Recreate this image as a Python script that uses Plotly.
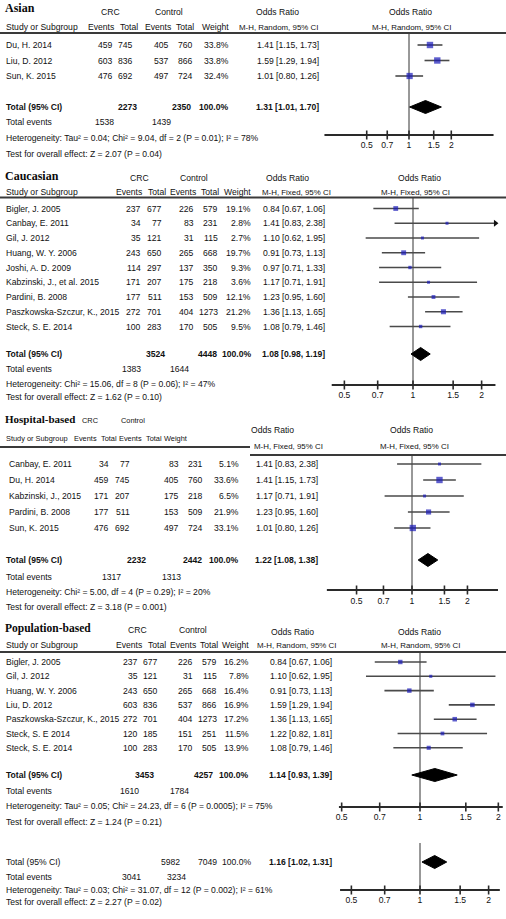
import math
import plotly.graph_objects as go

W, H = 506, 919
FONT = "Liberation Sans, Arial, sans-serif"
SERIF = "Liberation Serif, Times New Roman, serif"
FS = 8.6
FS_MH = 7.9
TXT = "#111111"
SQ = "#1a1ab8"

# ---------------- data ----------------
tick_vals = [0.5, 0.7, 1, 1.5, 2]
tick_labels = ["0.5", "0.7", "1", "1.5", "2"]

asian_studies = ["Du, H. 2014", "Liu, D. 2012", "Sun, K. 2015"]
asian_crc_events = [459, 603, 476]
asian_crc_total = [745, 836, 692]
asian_ctl_events = [405, 537, 497]
asian_ctl_total = [760, 866, 724]
asian_weight = [33.8, 33.8, 32.4]
asian_or = [1.41, 1.59, 1.01]
asian_lo = [1.15, 1.29, 0.80]
asian_hi = [1.73, 1.94, 1.26]
asian_totals = [2273, 2350, 1538, 1439]
asian_pooled = [1.31, 1.01, 1.70]
asian_het = "Heterogeneity: Tau² = 0.04; Chi² = 9.04, df = 2 (P = 0.01); I² = 78%"
asian_test = "Test for overall effect: Z = 2.07 (P = 0.04)"

cauc_studies = ["Bigler, J. 2005", "Canbay, E. 2011", "Gil, J. 2012", "Huang, W. Y. 2006",
                "Joshi, A. D. 2009", "Kabzinski, J., et al. 2015", "Pardini, B. 2008",
                "Paszkowska-Szczur, K., 2015", "Steck, S. E. 2014"]
cauc_crc_events = [237, 34, 35, 243, 114, 171, 177, 272, 100]
cauc_crc_total = [677, 77, 121, 650, 297, 207, 511, 701, 283]
cauc_ctl_events = [226, 83, 31, 265, 137, 175, 153, 404, 170]
cauc_ctl_total = [579, 231, 115, 668, 350, 218, 509, 1273, 505]
cauc_weight = [19.1, 2.8, 2.7, 19.7, 9.3, 3.6, 12.1, 21.2, 9.5]
cauc_or = [0.84, 1.41, 1.10, 0.91, 0.97, 1.17, 1.23, 1.36, 1.08]
cauc_lo = [0.67, 0.83, 0.62, 0.73, 0.71, 0.71, 0.95, 1.13, 0.79]
cauc_hi = [1.06, 2.38, 1.95, 1.13, 1.33, 1.91, 1.60, 1.65, 1.46]
cauc_totals = [3524, 4448, 1383, 1644]
cauc_pooled = [1.08, 0.98, 1.19]
cauc_het = "Heterogeneity: Chi² = 15.06, df = 8 (P = 0.06); I² = 47%"
cauc_test = "Test for overall effect: Z = 1.62 (P = 0.10)"

hosp_studies = ["Canbay, E. 2011", "Du, H. 2014", "Kabzinski, J., 2015", "Pardini, B. 2008", "Sun, K. 2015"]
hosp_crc_events = [34, 459, 171, 177, 476]
hosp_crc_total = [77, 745, 207, 511, 692]
hosp_ctl_events = [83, 405, 175, 153, 497]
hosp_ctl_total = [231, 760, 218, 509, 724]
hosp_weight = [5.1, 33.6, 6.5, 21.9, 33.1]
hosp_or = [1.41, 1.41, 1.17, 1.23, 1.01]
hosp_lo = [0.83, 1.15, 0.71, 0.95, 0.80]
hosp_hi = [2.38, 1.73, 1.91, 1.60, 1.26]
hosp_totals = [2232, 2442, 1317, 1313]
hosp_pooled = [1.22, 1.08, 1.38]
hosp_het = "Heterogeneity: Chi² = 5.00, df = 4 (P = 0.29); I² = 20%"
hosp_test = "Test for overall effect: Z = 3.18 (P = 0.001)"

pop_studies = ["Bigler, J. 2005", "Gil, J. 2012", "Huang, W. Y. 2006", "Liu, D. 2012",
               "Paszkowska-Szczur, K., 2015", "Steck, S. E 2014", "Steck, S. E. 2014"]
pop_crc_events = [237, 35, 243, 603, 272, 120, 100]
pop_crc_total = [677, 121, 650, 836, 701, 185, 283]
pop_ctl_events = [226, 31, 265, 537, 404, 151, 170]
pop_ctl_total = [579, 115, 668, 866, 1273, 251, 505]
pop_weight = [16.2, 7.8, 16.4, 16.9, 17.2, 11.5, 13.9]
pop_or = [0.84, 1.10, 0.91, 1.59, 1.36, 1.22, 1.08]
pop_lo = [0.67, 0.62, 0.73, 1.29, 1.13, 0.82, 0.79]
pop_hi = [1.06, 1.95, 1.13, 1.94, 1.65, 1.81, 1.46]
pop_totals = [3453, 4257, 1610, 1784]
pop_pooled = [1.14, 0.93, 1.39]
pop_het = "Heterogeneity: Tau² = 0.05; Chi² = 24.23, df = 6 (P = 0.0005); I² = 75%"
pop_test = "Test for overall effect: Z = 1.24 (P = 0.21)"

all_totals = [5982, 7049, 3041, 3234]
all_pooled = [1.16, 1.02, 1.31]
all_het = "Heterogeneity: Tau² = 0.03; Chi² = 31.07, df = 12 (P = 0.002); I² = 61%"
all_test = "Test for overall effect: Z = 2.27 (P = 0.02)"

# ---------------- layout specs (positions only) ----------------
panels = [
    dict(name="Asian", method="M-H, Random, 95% CI", axis="x2",
         studies=asian_studies, ce=asian_crc_events, ct=asian_crc_total, ke=asian_ctl_events,
         kt=asian_ctl_total, w=asian_weight, est=asian_or, lo=asian_lo, hi=asian_hi,
         totals=asian_totals, pooled=asian_pooled, het=asian_het, test=asian_test,
         L=dict(title_y=8, title_fs=12, h1_y=12, h2_y=27, lines=[(0, 506, 33)], null_top=33,
                row0=45, step=15.5, total_y=107, hfs=FS,
                tev_y=122, het_y=138, test_y=154, axis_y=135, tick_y=146,
                c=409, s=61, ax_lo=0.25, ax_hi=4.0, name_x=5,
                hdr=dict(crc=110, ctl=169, ev1=115, tot1=139, ev2=172, tot2=195, w=230,
                         or1=277, mh1=278, or2=410, mh2=411, or_y=12, mh_y=27),
                col=dict(ev1=114, tot1=134, ev2=170, tot2=194, w=230, orr=320),
                tcol=dict(tot1=138, tot2=192, w=230, ev1=115, ev2=172, orr=320))),
    dict(name="Caucasian", method="M-H, Fixed, 95% CI", axis="x3",
         studies=cauc_studies, ce=cauc_crc_events, ct=cauc_crc_total, ke=cauc_ctl_events,
         kt=cauc_ctl_total, w=cauc_weight, est=cauc_or, lo=cauc_lo, hi=cauc_hi,
         totals=cauc_totals, pooled=cauc_pooled, het=cauc_het, test=cauc_test,
         L=dict(title_y=176, title_fs=12, h1_y=178, h2_y=192, lines=[(0, 506, 197.5)], null_top=197.5,
                row0=208.5, step=14.75, total_y=354, hfs=FS,
                tev_y=369, het_y=384, test_y=397, axis_y=385, tick_y=396,
                c=413, s=99, ax_lo=0.44, ax_hi=2.3, name_x=5,
                hdr=dict(crc=139, ctl=194, ev1=143, tot1=167, ev2=197, tot2=220, w=252,
                         or1=287, mh1=296, or2=419, mh2=415, or_y=178, mh_y=192),
                col=dict(ev1=142, tot1=163, ev2=195, tot2=219, w=252, orr=326),
                tcol=dict(tot1=166, tot2=218, w=253, ev1=142, ev2=190, orr=326))),
    dict(name="Hospital-based", method="M-H, Fixed, 95% CI", axis="x4",
         studies=hosp_studies, ce=hosp_crc_events, ct=hosp_crc_total, ke=hosp_ctl_events,
         kt=hosp_ctl_total, w=hosp_weight, est=hosp_or, lo=hosp_lo, hi=hosp_hi,
         totals=hosp_totals, pooled=hosp_pooled, het=hosp_het, test=hosp_test,
         L=dict(title_y=419, title_fs=11, h1_y=420, h2_y=438, lines=[(0, 250, 447), (250, 506, 455)],
                null_top=455, row0=464, step=16, total_y=560, hfs=7.4,
                tev_y=577, het_y=592, test_y=607, axis_y=590, tick_y=602,
                c=412, s=80, ax_lo=0.345, ax_hi=2.93, name_x=8,
                hdr=dict(crc=90, ctl=133, ev1=98, tot1=118, ev2=143, tot2=163, w=188,
                         or1=272, mh1=288, or2=411, mh2=414, or_y=430, mh_y=446),
                col=dict(ev1=110, tot1=131, ev2=180, tot2=204, w=240, orr=319),
                tcol=dict(tot1=147, tot2=203, w=240, ev1=122, ev2=182, orr=319))),
    dict(name="Population-based", method="M-H, Random, 95% CI", axis="x5",
         studies=pop_studies, ce=pop_crc_events, ct=pop_crc_total, ke=pop_ctl_events,
         kt=pop_ctl_total, w=pop_weight, est=pop_or, lo=pop_lo, hi=pop_hi,
         totals=pop_totals, pooled=pop_pooled, het=pop_het, test=pop_test,
         L=dict(title_y=628, title_fs=11.5, h1_y=630, h2_y=645, lines=[(0, 506, 652)], null_top=652,
                row0=662, step=14.3, total_y=775, hfs=FS,
                tev_y=791, het_y=806, test_y=822, axis_y=807, tick_y=818,
                c=420, s=113, ax_lo=0.488, ax_hi=2.08, name_x=5,
                hdr=dict(crc=137, ctl=193, ev1=143, tot1=167, ev2=197, tot2=219, w=250,
                         or1=292, mh1=296, or2=419, mh2=420, or_y=632, mh_y=645),
                col=dict(ev1=139, tot1=159, ev2=194, tot2=218, w=250, orr=333),
                tcol=dict(tot1=155, tot2=214, w=250, ev1=140, ev2=190, orr=333))),
]
overall_L = dict(total_y=862, tev_y=877, het_y=890, test_y=902, axis_y=890, tick_y=901,
                 null_top=843, c=420, s=99, ax_lo=0.446, ax_hi=2.24, axis="x6",
                 tcol=dict(tot1=181, tot2=218, w=253, ev1=142, ev2=187, orr=333))

annotations = []
shapes = []
fig = go.Figure()


def txt(x, y, s, anchor="left", size=FS, font=FONT, color=TXT):
    annotations.append(dict(x=x, y=y, xref="x", yref="y", text=s, showarrow=False,
                            xanchor=anchor, yanchor="middle", borderpad=0,
                            font=dict(family=font, size=size, color=color)))


def line_trace(axis, xs, ys, width, color):
    fig.add_trace(go.Scatter(x=xs, y=ys, xaxis=axis, yaxis="y", mode="lines",
                             line=dict(color=color, width=width), hoverinfo="skip",
                             showlegend=False, cliponaxis=False))


def fmt_ci(e, l, h):
    return f"{e:.2f} [{l:.2f}, {h:.2f}]"


def draw_axis(axis, L):
    line_trace(axis, [L["ax_lo"], L["ax_hi"]], [L["axis_y"], L["axis_y"]], 2, "#2a2a2a")
    xs, ys = [], []
    for t in tick_vals:
        xs += [t, t, None]
        ys += [L["axis_y"] - 4.5, L["axis_y"] + 4.5, None]
    line_trace(axis, xs, ys, 1.6, "#2a2a2a")
    fig.add_trace(go.Scatter(x=tick_vals, y=[L["tick_y"]] * len(tick_vals), xaxis=axis, yaxis="y",
                             mode="text", text=tick_labels, textposition="middle center",
                             textfont=dict(family=FONT, size=FS, color=TXT), cliponaxis=False,
                             hoverinfo="skip", showlegend=False))


def draw_diamond(axis, y, pooled, half=6.5):
    e, l, h = pooled
    fig.add_trace(go.Scatter(x=[l, e, h, e, l], y=[y, y - half, y, y + half, y], xaxis=axis, yaxis="y",
                             mode="lines", fill="toself", fillcolor="#000000",
                             line=dict(color="#000000", width=1), hoverinfo="skip", showlegend=False))


for p in panels:
    L = p["L"]
    hd = L["hdr"]
    ax = p["axis"]
    hfs = L["hfs"]
    # headers
    txt(4, L["title_y"], "<b>" + p["name"] + "</b>", size=L["title_fs"], font=SERIF, color="#0a0a0a")
    txt(hd["crc"], L["h1_y"], "CRC", "center", size=hfs)
    txt(hd["ctl"], L["h1_y"], "Control", "center", size=hfs)
    txt(5, L["h2_y"], "Study or Subgroup", size=hfs)
    txt(hd["ev1"], L["h2_y"], "Events", "right", size=hfs)
    txt(hd["tot1"], L["h2_y"], "Total", "right", size=hfs)
    txt(hd["ev2"], L["h2_y"], "Events", "right", size=hfs)
    txt(hd["tot2"], L["h2_y"], "Total", "right", size=hfs)
    txt(hd["w"], L["h2_y"], "Weight", "right", size=hfs)
    txt(hd["or1"], hd["or_y"], "Odds Ratio", "center")
    txt(hd["mh1"], hd["mh_y"], p["method"], "center", size=FS_MH)
    txt(hd["or2"], hd["or_y"], "Odds Ratio", "center")
    txt(hd["mh2"], hd["mh_y"], p["method"], "center", size=FS_MH)
    for (x0, x1, yl) in L["lines"]:
        shapes.append(dict(type="line", xref="x", yref="y", x0=x0, x1=x1, y0=yl, y1=yl,
                           line=dict(color="#3a3a3a", width=1.8)))
    # rows
    col = L["col"]
    ys = [L["row0"] + i * L["step"] for i in range(len(p["studies"]))]
    for i, y in enumerate(ys):
        txt(L["name_x"], y, p["studies"][i])
        txt(col["ev1"], y, str(p["ce"][i]), "right")
        txt(col["tot1"], y, str(p["ct"][i]), "right")
        txt(col["ev2"], y, str(p["ke"][i]), "right")
        txt(col["tot2"], y, str(p["kt"][i]), "right")
        txt(col["w"], y, f"{p['w'][i]:.1f}%", "right")
        txt(col["orr"], y, fmt_ci(p["est"][i], p["lo"][i], p["hi"][i]), "right")
    # totals
    tc = L["tcol"]
    t = p["totals"]
    txt(5, L["total_y"], "<b>Total (95% CI)</b>")
    txt(tc["tot1"], L["total_y"], f"<b>{t[0]}</b>", "right")
    txt(tc["tot2"], L["total_y"], f"<b>{t[1]}</b>", "right")
    txt(tc["w"], L["total_y"], "<b>100.0%</b>", "right")
    txt(tc["orr"], L["total_y"], "<b>" + fmt_ci(*p["pooled"]) + "</b>", "right")
    txt(5, L["tev_y"], "Total events")
    txt(tc["ev1"], L["tev_y"], str(t[2]), "right")
    txt(tc["ev2"], L["tev_y"], str(t[3]), "right")
    txt(5, L["het_y"], p["het"])
    txt(5, L["test_y"], p["test"])

    # forest
    line_trace(ax, [1, 1], [L["null_top"], L["axis_y"]], 1, "#333333")
    xs, yy = [], []
    arrows_x, arrows_y = [], []
    for i, y in enumerate(ys):
        hi = p["hi"][i]
        if hi > L["ax_hi"]:
            hi = L["ax_hi"]
            arrows_x.append(hi)
            arrows_y.append(y)
        xs += [max(p["lo"][i], L["ax_lo"]), hi, None]
        yy += [y, y, None]
    line_trace(ax, xs, yy, 1.6, "#4a4a4a")
    if arrows_x:
        fig.add_trace(go.Scatter(x=arrows_x, y=arrows_y, xaxis=ax, yaxis="y", mode="markers",
                                 marker=dict(symbol="triangle-right", size=6, color="#111111"),
                                 hoverinfo="skip", showlegend=False))
    fig.add_trace(go.Scatter(x=p["est"], y=ys, xaxis=ax, yaxis="y", mode="markers",
                             marker=dict(symbol="square", color=SQ,
                                         size=[max(3, 1.1 * math.sqrt(w)) for w in p["w"]],
                                         line=dict(width=0)),
                             hoverinfo="skip", showlegend=False))
    draw_diamond(ax, L["total_y"], p["pooled"])
    draw_axis(ax, L)

# overall
L = overall_L
tc = L["tcol"]
t = all_totals
txt(5, L["total_y"], "Total (95% CI)")
txt(tc["tot1"], L["total_y"], str(t[0]), "right")
txt(tc["tot2"], L["total_y"], str(t[1]), "right")
txt(tc["w"], L["total_y"], "100.0%", "right")
txt(tc["orr"], L["total_y"], "<b>" + fmt_ci(*all_pooled) + "</b>", "right")
txt(5, L["tev_y"], "Total events")
txt(tc["ev1"], L["tev_y"], str(t[2]), "right")
txt(tc["ev2"], L["tev_y"], str(t[3]), "right")
txt(5, L["het_y"], all_het)
txt(5, L["test_y"], all_test)
line_trace(L["axis"], [1, 1], [L["null_top"], L["axis_y"]], 1, "#333333")
draw_diamond(L["axis"], L["total_y"], all_pooled)
draw_axis(L["axis"], L)

# ---------------- axes ----------------
layout_axes = dict(
    xaxis=dict(range=[0, W], domain=[0, 1], visible=False, fixedrange=True),
    yaxis=dict(range=[H, 0], domain=[0, 1], visible=False, fixedrange=True),
)
specs = [(p["axis"], p["L"]) for p in panels] + [(overall_L["axis"], overall_L)]
for axname, L in specs:
    k = L["s"] * math.log(10)
    key = "xaxis" + axname[1:]
    layout_axes[key] = dict(type="log", range=[(0 - L["c"]) / k, (W - L["c"]) / k], domain=[0, 1],
                            visible=False, overlaying="x", anchor="y", fixedrange=True)

fig.update_layout(width=W, height=H, margin=dict(l=0, r=0, t=0, b=0),
                  paper_bgcolor="white", plot_bgcolor="white",
                  annotations=annotations, shapes=shapes, showlegend=False, **layout_axes)
fig.write_html("out.html", config={"displayModeBar": False},
               post_script="document.body.style.margin='0px';document.body.style.padding='0px';")
